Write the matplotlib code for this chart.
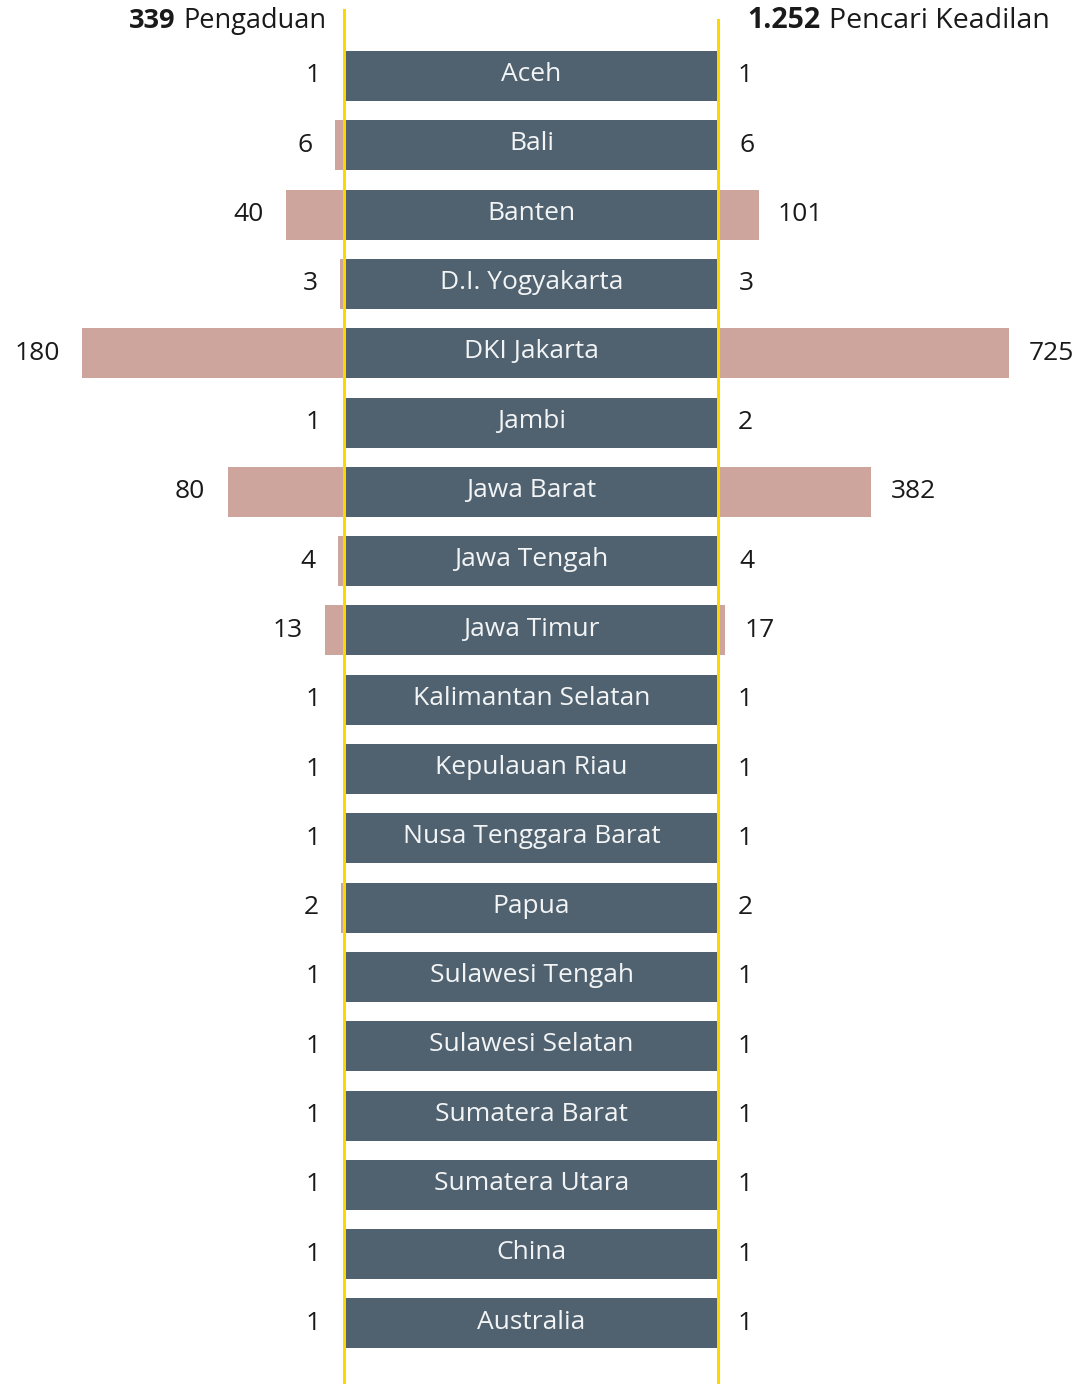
import numpy as np
import matplotlib.pyplot as plt

plt.rcParams['font.family'] = ['Open Sans', 'DejaVu Sans']

regions = ['Aceh', 'Bali', 'Banten', 'D.I. Yogyakarta', 'DKI Jakarta', 'Jambi',
           'Jawa Barat', 'Jawa Tengah', 'Jawa Timur', 'Kalimantan Selatan',
           'Kepulauan Riau', 'Nusa Tenggara Barat', 'Papua', 'Sulawesi Tengah',
           'Sulawesi Selatan', 'Sumatera Barat', 'Sumatera Utara', 'China', 'Australia']
pengaduan = [1, 6, 40, 3, 180, 1, 80, 4, 13, 1, 1, 1, 2, 1, 1, 1, 1, 1, 1]
pencari = [1, 6, 101, 3, 725, 2, 382, 4, 17, 1, 1, 1, 2, 1, 1, 1, 1, 1, 1]
total_pengaduan = '339'
total_pencari = '1.252'

W, H = 1084, 1384
fig = plt.figure(figsize=(W / 100, H / 100), dpi=100)

pink = '#cda59d'
slate = '#506270'
yellow = '#fcd800'
txt = '#1a1a1a'
fs = 19

y = np.arange(len(regions))
step = 69.3
top = 76
ylim = ((H - top) / step, -top / step)
bh = 50 / step


def px_axes(x0, x1):
    return fig.add_axes([x0 / W, 0, (x1 - x0) / W, 1])


# left: Pengaduan
axl = px_axes(0, 344)
axl.barh(y, pengaduan, height=bh, color=pink)
axl.set_xlim(236.3, 0)
axl.set_ylim(*ylim)
for yi, v in zip(y, pengaduan):
    axl.annotate(str(v), (v, yi), xytext=(-16, 0), textcoords='offset points',
                 ha='right', va='center', fontsize=fs, color=txt)

# right: Pencari Keadilan
axr = px_axes(718, W)
axr.barh(y, pencari, height=bh, color=pink)
axr.set_xlim(0, 911.8)
axr.set_ylim(*ylim)
for yi, v in zip(y, pencari):
    axr.annotate(str(v), (v, yi), xytext=(14, 0), textcoords='offset points',
                 ha='left', va='center', fontsize=fs, color=txt)

# centre boxes with region names
axc = px_axes(346, 717)
axc.barh(y, 1, height=bh, color=slate)
axc.set_xlim(0, 1)
axc.set_ylim(*ylim)
for yi, name in zip(y, regions):
    axc.text(0.5, yi - 0.02, name, ha='center', va='center', fontsize=fs, color='#f2f4f5')

for ax in (axl, axr, axc):
    ax.axis('off')
    ax.patch.set_alpha(0)

axl.axvline(0, ymin=0, ymax=1 - 10 / H, color=yellow, lw=2.2, clip_on=False, zorder=5)
axr.axvline(0, ymin=0, ymax=1 - 20 / H, color=yellow, lw=2.2, clip_on=False, zorder=5)

# headers
fig.canvas.draw()
r = fig.canvas.get_renderer()
hy = 1 - 21 / H
t1 = fig.text(326 / W, hy, 'Pengaduan', ha='right', va='center', fontsize=19.5, color=txt)
w1 = t1.get_window_extent(r).width
fig.text((326 - w1 - 7) / W, hy, total_pengaduan, ha='right', va='center',
         fontsize=19.5, fontweight='bold', color=txt)
t2 = fig.text(747 / W, hy, total_pencari, ha='left', va='center', fontsize=20.5,
              fontweight='bold', color=txt)
w2 = t2.get_window_extent(r).width
fig.text((747 + w2 + 9) / W, hy, 'Pencari Keadilan', ha='left', va='center',
         fontsize=20.5, color=txt)

fig.savefig('out.png', dpi=100)
